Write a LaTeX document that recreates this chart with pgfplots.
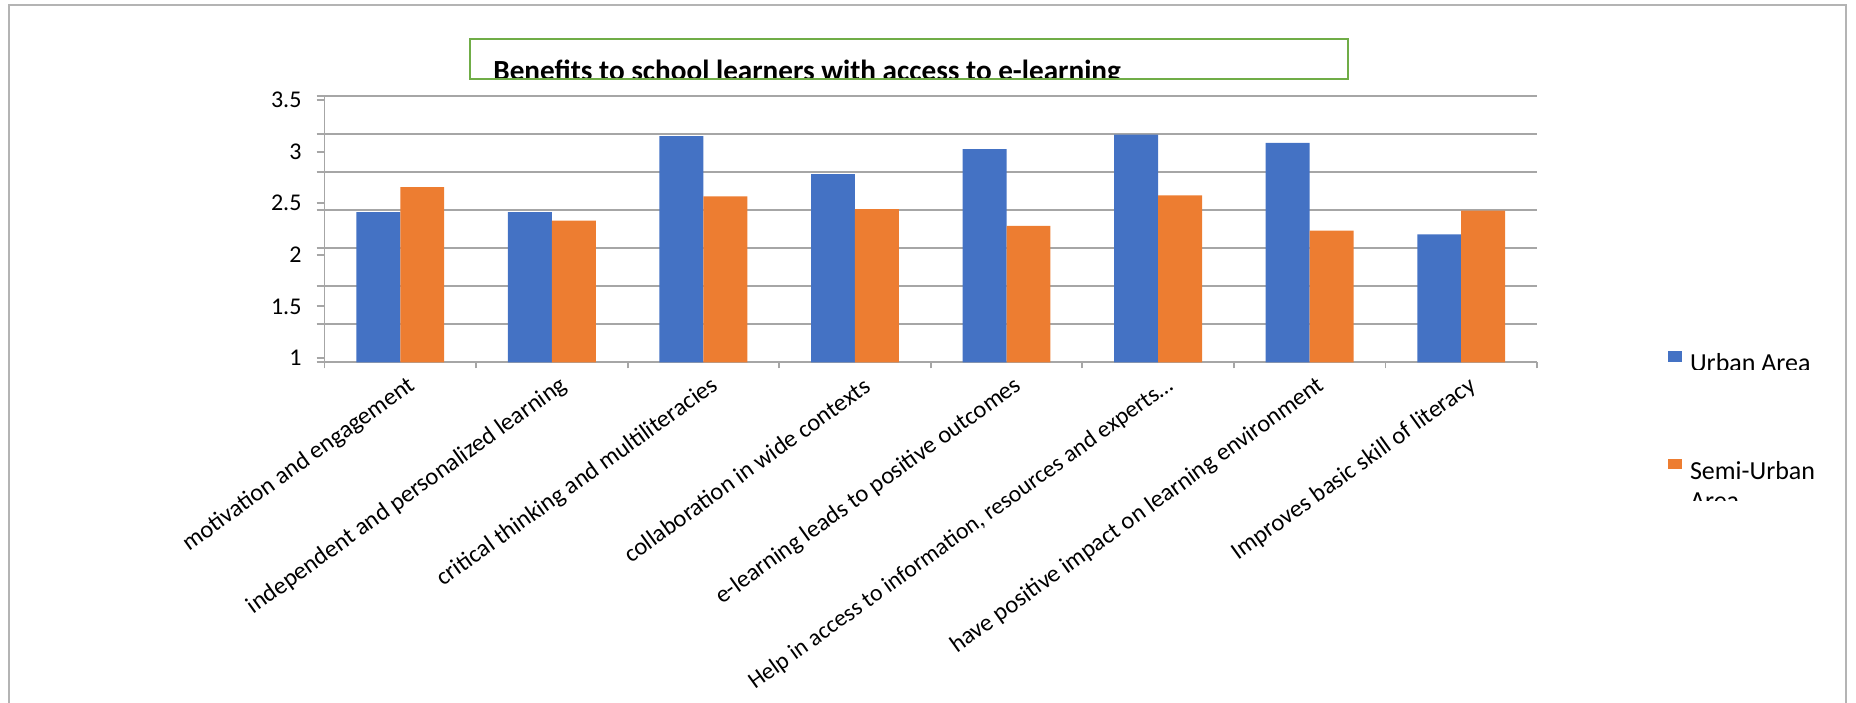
\documentclass[border=0pt]{standalone}
\usepackage{pgfplots}
\pgfplotsset{compat=1.18}
\usepackage{fontspec}
\setmainfont{Carlito}
\definecolor{cblue}{HTML}{4472C4}
\definecolor{corange}{HTML}{ED7D31}
\definecolor{cgreen}{HTML}{70AD47}
\definecolor{gridc}{HTML}{A6A6A6}
\definecolor{framec}{HTML}{B4B4B4}
\begin{document}
\begin{tikzpicture}[x=1pt,y=1pt]
\useasboundingbox (0,0) rectangle (928,351);
\draw[framec, line width=1.2pt] (4.5,-5) -- (4.5,348.5) -- (923,348.5) -- (923,-5);
\begin{axis}[
  at={(162.25pt,169.85pt)}, anchor=south west,
  scale only axis, width=606.25pt, height=133.3pt,
  xmin=-0.5, xmax=7.5, ymin=0, ymax=3.5,
  ybar=0pt, bar width=0.29,
  axis x line*=bottom, axis y line*=left,
  axis line style={gridc, line width=0.9pt, -},
  ymajorgrids, grid style={gridc, line width=0.9pt},
  ytick={0,0.5,1,1.5,2,2.5,3,3.5}, yticklabels={},
  tick align=outside, major tick length=4pt,
  ytick style={gridc, line width=0.9pt},
  extra y ticks={0.056,0.734,1.411,2.089,2.766,3.444},
  extra y tick labels={1,1.5,2,2.5,3,3.5},
  extra y tick style={grid=none, draw=none},
  yticklabel style={font=\fontsize{12}{14}\selectfont, black, xshift=-4pt},
  xtick={0,1,2,3,4,5,6,7},
  xticklabels={motivation and engagement, independent and personalized learning, critical thinking and multiliteracies, collaboration in wide contexts, e-learning leads to positive outcomes, {\fontsize{11.8}{14}\selectfont Help in access to information, resources and experts…}, have positive impact on learning environment, Improves basic skill of literacy},
  minor xtick={-0.5,0.5,1.5,2.5,3.5,4.5,5.5,6.5,7.5}, minor tick length=3pt,
  every major x tick/.append style={draw=none},
  every minor x tick/.append style={gridc, line width=0.9pt},
  xticklabel style={font=\fontsize{12.2}{14}\selectfont, black, xshift=9pt, yshift=-4.5pt, rotate=35.7, anchor=east},
  legend cell align=left,
  legend style={at={(axis description cs:1.1077,0.0424)}, anchor=north west, draw=none, fill=none, inner sep=0pt, outer sep=0pt, row sep=42pt, column sep=4.2pt, font=\fontsize{13}{15}\selectfont, nodes={inner sep=0pt}, cells={anchor=base west}},
  legend image code/.code={\path (0pt,0pt); \fill[#1] (0pt,5pt) rectangle (7pt,10.35pt);},
]
\addplot[fill=cblue, draw=none] coordinates {(0,1.97) (1,1.97) (2,2.97) (3,2.47) (4,2.80) (5,2.99) (6,2.88) (7,1.68)};
\addplot[fill=corange, draw=none] coordinates {(0,2.30) (1,1.86) (2,2.18) (3,2.01) (4,1.79) (5,2.19) (6,1.73) (7,1.99)};
\legend{Urban Area, {\vtop{\hbox{Semi-Urban}\hbox{Area}}}}
\end{axis}
\fill[white] (843,158) rectangle (915,166.2);
\fill[white] (843,80) rectangle (915,100.5);
\begin{scope}
\clip (235,311.5) rectangle (674,331.35);
\node[anchor=base west, inner sep=0pt, font=\bfseries\fontsize{14.6}{17}\selectfont] at (246.5,310.5) {Benefits to school learners with access to e-learning};
\end{scope}
\draw[cgreen, line width=1pt] (235,311.5) rectangle (674,331.35);
\end{tikzpicture}
\end{document}
